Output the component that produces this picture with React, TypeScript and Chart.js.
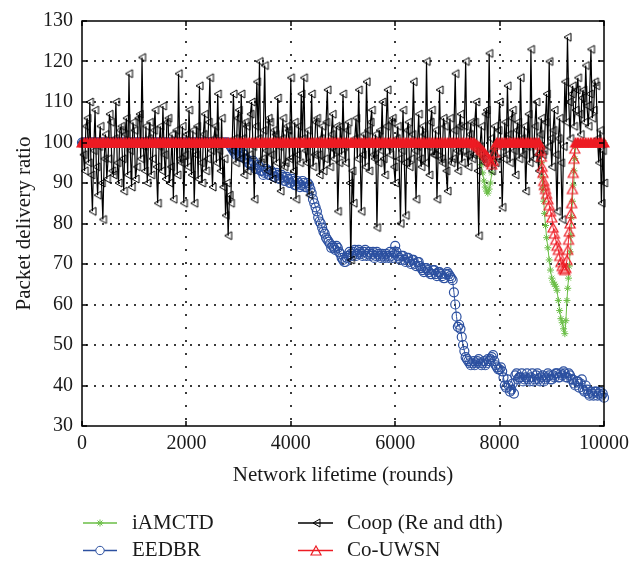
import React, { useEffect, useRef } from 'react';
import { Chart, registerables } from 'chart.js';

Chart.register(...registerables);

// ---------- data ----------
const seriesNames = ['iAMCTD', 'EEDBR', 'Coop (Re and dth)', 'Co-UWSN'];
const xTicks = [0, 2000, 4000, 6000, 8000, 10000];
const yTicks = [30, 40, 50, 60, 70, 80, 90, 100, 110, 120, 130];
const xTitle = 'Network lifetime (rounds)';
const yTitle = 'Packet delivery ratio';

// sampling rounds for EEDBR and Coop (every 25 rounds)
const rounds = [
  0, 25, 50, 75, 100, 125, 150, 175, 200, 225,
  250, 275, 300, 325, 350, 375, 400, 425, 450, 475,
  500, 525, 550, 575, 600, 625, 650, 675, 700, 725,
  750, 775, 800, 825, 850, 875, 900, 925, 950, 975,
  1000, 1025, 1050, 1075, 1100, 1125, 1150, 1175, 1200, 1225,
  1250, 1275, 1300, 1325, 1350, 1375, 1400, 1425, 1450, 1475,
  1500, 1525, 1550, 1575, 1600, 1625, 1650, 1675, 1700, 1725,
  1750, 1775, 1800, 1825, 1850, 1875, 1900, 1925, 1950, 1975,
  2000, 2025, 2050, 2075, 2100, 2125, 2150, 2175, 2200, 2225,
  2250, 2275, 2300, 2325, 2350, 2375, 2400, 2425, 2450, 2475,
  2500, 2525, 2550, 2575, 2600, 2625, 2650, 2675, 2700, 2725,
  2750, 2775, 2800, 2825, 2850, 2875, 2900, 2925, 2950, 2975,
  3000, 3025, 3050, 3075, 3100, 3125, 3150, 3175, 3200, 3225,
  3250, 3275, 3300, 3325, 3350, 3375, 3400, 3425, 3450, 3475,
  3500, 3525, 3550, 3575, 3600, 3625, 3650, 3675, 3700, 3725,
  3750, 3775, 3800, 3825, 3850, 3875, 3900, 3925, 3950, 3975,
  4000, 4025, 4050, 4075, 4100, 4125, 4150, 4175, 4200, 4225,
  4250, 4275, 4300, 4325, 4350, 4375, 4400, 4425, 4450, 4475,
  4500, 4525, 4550, 4575, 4600, 4625, 4650, 4675, 4700, 4725,
  4750, 4775, 4800, 4825, 4850, 4875, 4900, 4925, 4950, 4975,
  5000, 5025, 5050, 5075, 5100, 5125, 5150, 5175, 5200, 5225,
  5250, 5275, 5300, 5325, 5350, 5375, 5400, 5425, 5450, 5475,
  5500, 5525, 5550, 5575, 5600, 5625, 5650, 5675, 5700, 5725,
  5750, 5775, 5800, 5825, 5850, 5875, 5900, 5925, 5950, 5975,
  6000, 6025, 6050, 6075, 6100, 6125, 6150, 6175, 6200, 6225,
  6250, 6275, 6300, 6325, 6350, 6375, 6400, 6425, 6450, 6475,
  6500, 6525, 6550, 6575, 6600, 6625, 6650, 6675, 6700, 6725,
  6750, 6775, 6800, 6825, 6850, 6875, 6900, 6925, 6950, 6975,
  7000, 7025, 7050, 7075, 7100, 7125, 7150, 7175, 7200, 7225,
  7250, 7275, 7300, 7325, 7350, 7375, 7400, 7425, 7450, 7475,
  7500, 7525, 7550, 7575, 7600, 7625, 7650, 7675, 7700, 7725,
  7750, 7775, 7800, 7825, 7850, 7875, 7900, 7925, 7950, 7975,
  8000, 8025, 8050, 8075, 8100, 8125, 8150, 8175, 8200, 8225,
  8250, 8275, 8300, 8325, 8350, 8375, 8400, 8425, 8450, 8475,
  8500, 8525, 8550, 8575, 8600, 8625, 8650, 8675, 8700, 8725,
  8750, 8775, 8800, 8825, 8850, 8875, 8900, 8925, 8950, 8975,
  9000, 9025, 9050, 9075, 9100, 9125, 9150, 9175, 9200, 9225,
  9250, 9275, 9300, 9325, 9350, 9375, 9400, 9425, 9450, 9475,
  9500, 9525, 9550, 9575, 9600, 9625, 9650, 9675, 9700, 9725,
  9750, 9775, 9800, 9825, 9850, 9875, 9900, 9925, 9950, 9975,
  10000,
];

const coopValues = [
  100, 97, 93, 104, 106, 95, 110, 92, 83, 98,
  108, 94, 87, 99, 104, 90, 81, 96, 102, 91,
  96, 107, 105, 93, 92, 101, 110, 95, 90, 103,
  104, 96, 88, 102, 106, 92, 117, 98, 89, 105,
  103, 91, 94, 106, 107, 96, 121, 99, 93, 104,
  90, 101, 105, 92, 96, 103, 108, 94, 85, 99,
  104, 93, 109, 97, 91, 105, 106, 90, 94, 102,
  86, 100, 103, 92, 117, 96, 95, 104, 85, 97,
  102, 94, 108, 99, 92, 103, 85, 97, 104, 91,
  114, 95, 90, 102, 107, 93, 96, 105, 116, 98,
  89, 101, 104, 95, 112, 98, 93, 106, 89, 96,
  82, 90, 77, 87, 85, 98, 112, 101, 95, 106,
  108, 96, 112, 101, 92, 105, 104, 93, 97, 107,
  110, 99, 86, 104, 115, 101, 120, 95, 96, 103,
  119, 98, 93, 106, 105, 97, 91, 103, 102, 95,
  111, 99, 88, 101, 106, 94, 95, 104, 103, 96,
  116, 100, 93, 105, 86, 97, 104, 95, 112, 101,
  116, 98, 95, 103, 87, 100, 112, 94, 97, 105,
  106, 97, 92, 101, 104, 93, 96, 105, 113, 99,
  94, 102, 107, 96, 98, 104, 83, 95, 104, 97,
  112, 99, 95, 103, 105, 90, 71, 93, 85, 101,
  106, 96, 113, 100, 83, 97, 102, 94, 115, 103,
  93, 105, 108, 97, 96, 102, 79, 95, 103, 98,
  110, 96, 92, 104, 113, 99, 97, 105, 106, 94,
  90, 101, 104, 96, 80, 98, 108, 95, 82, 103,
  105, 94, 96, 102, 115, 98, 86, 99, 107, 96,
  94, 104, 102, 95, 120, 99, 92, 105, 108, 97,
  97, 103, 86, 98, 113, 96, 95, 106, 104, 93,
  88, 100, 106, 95, 96, 103, 117, 98, 93, 104,
  107, 95, 98, 104, 120, 97, 94, 102, 105, 96,
  97, 105, 110, 93, 77, 99, 104, 96, 95, 107,
  108, 97, 122, 101, 93, 98, 104, 95, 96, 103,
  110, 99, 84, 96, 105, 97, 114, 102, 95, 106,
  108, 98, 92, 103, 105, 96, 116, 101, 97, 104,
  88, 99, 107, 95, 123, 100, 96, 104, 110, 97,
  93, 102, 106, 97, 98, 105, 112, 99, 120, 101,
  94, 103, 108, 97, 83, 101, 106, 95, 81, 99,
  115, 105, 126, 110, 101, 112, 114, 104, 108, 113,
  116, 107, 102, 111, 113, 105, 119, 109, 104, 112,
  123, 106, 108, 115, 114, 101, 95, 103, 85, 98,
  90,
];

const eedbrValues = [
  100, 100, 100, 100, 100, 100, 100, 100, 100, 100,
  100, 100, 100, 100, 100, 100, 100, 100, 100, 100,
  100, 100, 100, 100, 100, 100, 100, 100, 100, 100,
  100, 100, 100, 100, 100, 100, 100, 100, 100, 100,
  100, 100, 100, 100, 100, 100, 100, 100, 100, 100,
  100, 100, 100, 100, 100, 100, 100, 100, 100, 100,
  100, 100, 100, 100, 100, 100, 100, 100, 100, 100,
  100, 100, 100, 100, 100, 100, 100, 100, 100, 100,
  100, 100, 100, 100, 100, 100, 100, 100, 100, 100,
  100, 100, 100, 100, 100, 100, 100, 100, 100, 100,
  100, 100, 100, 100, 100, 100, 100, 100, 100, 100,
  100, 100, 100, 99.5, 99, 98.5, 98, 97.5, 97, 98,
  97.5, 96.5, 96.5, 97.5, 97, 96, 96, 95, 95, 94.5,
  94.5, 95.5, 95, 93.5, 93.5, 94.5, 94, 93, 93, 92,
  92.5, 93.5, 93, 92, 92, 93, 92.5, 91.5, 91.5, 92.5,
  92, 91, 91, 92, 91.5, 90.5, 90.5, 91.5, 91, 90,
  90, 91, 90.5, 89.5, 89.5, 90.5, 90, 89, 89.5, 90.5,
  90, 89, 89, 90, 89.5, 88.5, 87.5, 86, 85, 84,
  83, 81.5, 80.5, 80, 79, 78, 77.5, 76.5, 76, 75.5,
  75, 74, 74.5, 74, 73.5, 74.5, 74, 73, 72.5, 71.5,
  71, 70.5, 70.5, 71.5, 72, 73, 72.5, 72, 73, 73.5,
  72, 72.5, 73.5, 73, 72.5, 72, 73, 73.5, 72, 72.5,
  73, 72, 72.5, 73, 71.5, 72, 73, 72.5, 72, 71.5,
  72.5, 72, 71.5, 72.5, 72, 71.5, 73, 72, 71.5, 73,
  74.5, 73, 72, 71.5, 71, 72, 72, 71, 70.5, 71.5,
  71.5, 70.5, 70, 71, 71, 70, 69.5, 70.5, 70.5, 69.5,
  69, 68.5, 68, 69, 69, 68.5, 68, 67.5, 67.5, 68.5,
  68.5, 67.5, 67, 68, 68, 67.5, 67, 66.5, 66.5, 67.5,
  68, 67.5, 67, 66.5, 66, 63, 60, 57, 54.5, 55,
  54, 52, 50, 48.5, 47, 46.5, 46, 45.5, 45, 45.5,
  46, 45, 45.5, 46, 46.5, 45.5, 45, 45.5, 46, 45,
  45.5, 46.5, 46, 46.5, 47, 47.5, 46, 45, 44.5, 44,
  44, 44.5, 43.5, 42, 40, 39.5, 41.5, 40, 38.5, 39,
  40.5, 38, 42.5, 43, 41.5, 42, 42, 43, 41, 41.5,
  42, 43, 41.5, 41, 42, 43, 41, 41.5, 42.5, 43,
  41.5, 41, 42, 42.5, 41, 41.5, 42, 43, 42.5, 41.5,
  41.5, 42.5, 42, 43, 43, 42, 42, 43, 42.5, 43.5,
  43, 42, 42, 43, 42.5, 41.5, 41.5, 40.5, 40, 41,
  41, 39.5, 40.5, 41.5, 39, 38.5, 40, 39, 38, 37.5,
  38.5, 38, 37.5, 38.5, 38.5, 37.5, 38, 38.5, 37.5, 38,
  37,
];

// sampling rounds for iAMCTD and Co-UWSN (denser around the dips)
const fineRounds = [
  0, 50, 100, 150, 200, 250, 300, 350, 400, 450,
  500, 550, 600, 650, 700, 750, 800, 850, 900, 950,
  1000, 1050, 1100, 1150, 1200, 1250, 1300, 1350, 1400, 1450,
  1500, 1550, 1600, 1650, 1700, 1750, 1800, 1850, 1900, 1950,
  2000, 2050, 2100, 2150, 2200, 2250, 2300, 2350, 2400, 2450,
  2500, 2550, 2600, 2650, 2700, 2750, 2800, 2850, 2900, 2950,
  3000, 3050, 3100, 3150, 3200, 3250, 3300, 3350, 3400, 3450,
  3500, 3550, 3600, 3650, 3700, 3750, 3800, 3850, 3900, 3950,
  4000, 4050, 4100, 4150, 4200, 4250, 4300, 4350, 4400, 4450,
  4500, 4550, 4600, 4650, 4700, 4750, 4800, 4850, 4900, 4950,
  5000, 5050, 5100, 5150, 5200, 5250, 5300, 5350, 5400, 5450,
  5500, 5550, 5600, 5650, 5700, 5750, 5800, 5850, 5900, 5950,
  6000, 6050, 6100, 6150, 6200, 6250, 6300, 6350, 6400, 6450,
  6500, 6550, 6600, 6650, 6700, 6750, 6800, 6850, 6900, 6950,
  7000, 7050, 7100, 7150, 7200, 7250, 7300, 7350, 7400, 7450,
  7500,
  7525, 7550, 7575, 7600, 7625, 7650, 7675, 7700, 7725, 7750,
  7775, 7800, 7825, 7850, 7875, 7900, 7925,
  7950, 8000, 8050, 8100, 8150, 8200, 8250, 8300, 8350, 8400,
  8450, 8500, 8550, 8600, 8650, 8700, 8750,
  8770, 8785, 8800, 8815, 8830, 8845, 8860, 8880, 8900, 8925,
  8950, 8975, 9000, 9025, 9050, 9075, 9100, 9125, 9150, 9175,
  9200, 9225, 9250, 9270, 9290, 9305, 9320, 9335, 9350, 9365,
  9380, 9395, 9410, 9425, 9440, 9455,
  9500, 9550, 9600, 9650, 9700, 9750, 9800, 9850, 9900, 9950,
  10000,
];

const coUwsnValues = [
  100, 100, 100, 100, 100, 100, 100, 100, 100, 100,
  100, 100, 100, 100, 100, 100, 100, 100, 100, 100,
  100, 100, 100, 100, 100, 100, 100, 100, 100, 100,
  100, 100, 100, 100, 100, 100, 100, 100, 100, 100,
  100, 100, 100, 100, 100, 100, 100, 100, 100, 100,
  100, 100, 100, 100, 100, 100, 100, 100, 100, 100,
  100, 100, 100, 100, 100, 100, 100, 100, 100, 100,
  100, 100, 100, 100, 100, 100, 100, 100, 100, 100,
  100, 100, 100, 100, 100, 100, 100, 100, 100, 100,
  100, 100, 100, 100, 100, 100, 100, 100, 100, 100,
  100, 100, 100, 100, 100, 100, 100, 100, 100, 100,
  100, 100, 100, 100, 100, 100, 100, 100, 100, 100,
  100, 100, 100, 100, 100, 100, 100, 100, 100, 100,
  100, 100, 100, 100, 100, 100, 100, 100, 100, 100,
  100, 100, 100, 100, 100, 100, 100, 100, 100, 100,
  100,
  99.8, 99.5, 99.3, 99, 98.7, 98.3, 98, 97.6, 97.2, 96.8,
  96.3, 95.8, 95.2, 94.6, 95.5, 97.5, 99.5,
  100, 100, 100, 100, 100, 100, 100, 100, 100, 100,
  100, 100, 100, 100, 100, 100, 100,
  99.5, 98, 96.5, 94, 92.5, 90.5, 89.5, 88.5, 87.3, 86,
  84.5, 83, 81.5, 79, 77.5, 76, 74.5, 73.5, 72, 70.5,
  69.5, 68.8, 68.5, 69, 71, 73.5, 76, 78, 80, 82.5,
  85, 88.5, 92.5, 96, 98.5, 100,
  100, 100, 100, 100, 100, 100, 100, 100, 100, 100,
  100,
];

const iamctdValues = [
  100, 100, 100, 100, 100, 100, 100, 100, 100, 100,
  100, 100, 100, 100, 100, 100, 100, 100, 100, 100,
  100, 100, 100, 100, 100, 100, 100, 100, 100, 100,
  100, 100, 100, 100, 100, 100, 100, 100, 100, 100,
  100, 100, 100, 100, 100, 100, 100, 100, 100, 100,
  100, 100, 100, 100, 100, 100, 100, 100, 100, 100,
  100, 100, 100, 100, 100, 100, 100, 100, 100, 100,
  100, 100, 100, 100, 100, 100, 100, 100, 100, 100,
  100, 100, 100, 100, 100, 100, 100, 100, 100, 100,
  100, 100, 100, 100, 100, 100, 100, 100, 100, 100,
  100, 100, 100, 100, 100, 100, 100, 100, 100, 100,
  100, 100, 100, 100, 100, 100, 100, 100, 100, 100,
  100, 100, 100, 100, 100, 100, 100, 100, 100, 100,
  100, 100, 100, 100, 100, 100, 100, 100, 100, 100,
  100, 100, 100, 100, 100, 100, 100, 100, 100, 100,
  100,
  100, 99.5, 99, 98, 96.5, 94.5, 92.5, 90.5, 89, 88,
  87.5, 88.5, 90, 92.5, 95.5, 98.5, 100,
  100, 100, 100, 100, 100, 100, 100, 100, 100, 100,
  100, 100, 100, 100, 100, 100, 100,
  99.5, 97.5, 95, 91.5, 88.5, 85.5, 82.5, 79.5, 76.5, 74,
  71, 68.5, 66.5, 65.5, 65, 64.5, 63.5, 61, 58.5, 56.5,
  55.5, 54, 52.8, 56, 61, 64, 66.5, 69.5, 73, 77,
  81.5, 85.5, 89.5, 93, 96, 99,
  100, 100, 100, 100, 100, 100, 100, 100, 100, 100,
  100,
];

// ---------- styles ----------
const FONT = '"Liberation Serif", "DejaVu Serif", serif';
const GREEN = 'rgb(106,190,70)';
const BLUE = 'rgb(44,80,160)';
const RED = 'rgb(237,28,36)';
const BLACK = '#000';
const TEXT = '#1a1a1a';

function makeTriangle(color: string, w: number, h: number, dir: 'up' | 'left', lw: number, filled: boolean) {
  const pad = 2;
  const c = document.createElement('canvas');
  c.width = w + pad * 2;
  c.height = h + pad * 2;
  const ctx = c.getContext('2d')!;
  ctx.strokeStyle = color;
  ctx.fillStyle = color;
  ctx.lineWidth = lw;
  ctx.lineJoin = 'miter';
  ctx.beginPath();
  if (dir === 'up') {
    ctx.moveTo(pad + w / 2, pad);
    ctx.lineTo(pad + w, pad + h);
    ctx.lineTo(pad, pad + h);
  } else {
    ctx.moveTo(pad, pad + h / 2);
    ctx.lineTo(pad + w, pad);
    ctx.lineTo(pad + w, pad + h);
  }
  ctx.closePath();
  if (filled) ctx.fill();
  ctx.stroke();
  return c;
}

function toPoints(xs: number[], ys: number[]) {
  return xs.map((x, i) => ({ x, y: ys[i] }));
}

export default function App() {
  const ref = useRef<HTMLCanvasElement>(null);

  useEffect(() => {
    const canvas = ref.current!;
    const redTri = makeTriangle(RED, 10, 9, 'up', 1.2, false);
    const redTriSolid = makeTriangle(RED, 10, 9, 'up', 1.2, true);
    const blackTri = makeTriangle(BLACK, 7, 8, 'left', 1, false);

    const framePlugin = {
      id: 'frame',
      beforeDatasetsDraw(chart: any) {
        const { ctx, chartArea: a, scales } = chart;
        const x = scales.x;
        const y = scales.y;
        ctx.save();
        ctx.fillStyle = '#3a3a3a';
        // dotted horizontal grid
        for (const v of yTicks) {
          if (v === yTicks[0] || v === yTicks[yTicks.length - 1]) continue;
          const py = Math.round(y.getPixelForValue(v)) - 1;
          for (let px = Math.round(a.left) + 4; px < a.right - 2; px += 8) {
            ctx.fillRect(px, py, 2, 2);
          }
        }
        // dotted vertical grid
        for (const v of xTicks) {
          if (v === xTicks[0] || v === xTicks[xTicks.length - 1]) continue;
          const px = Math.round(x.getPixelForValue(v)) - 1;
          for (let py = Math.round(a.bottom) - 8; py > a.top + 2; py -= 13) {
            ctx.fillRect(px, py, 2, 2);
          }
        }
        ctx.restore();
      },
      afterDatasetsDraw(chart: any) {
        const { ctx, chartArea: a, scales } = chart;
        const x = scales.x;
        const y = scales.y;
        ctx.save();
        ctx.setLineDash([]);
        ctx.strokeStyle = BLACK;
        ctx.lineWidth = 1.5;
        ctx.strokeRect(a.left, a.top, a.right - a.left, a.bottom - a.top);
        ctx.lineWidth = 1.5;
        const tl = 5;
        for (const v of xTicks) {
          const px = Math.round(x.getPixelForValue(v));
          ctx.beginPath();
          ctx.moveTo(px, a.bottom);
          ctx.lineTo(px, a.bottom - tl);
          ctx.moveTo(px, a.top);
          ctx.lineTo(px, a.top + tl);
          ctx.stroke();
        }
        for (const v of yTicks) {
          const py = Math.round(y.getPixelForValue(v));
          ctx.beginPath();
          ctx.moveTo(a.left, py);
          ctx.lineTo(a.left + tl, py);
          ctx.moveTo(a.right, py);
          ctx.lineTo(a.right - tl, py);
          ctx.stroke();
        }
        ctx.restore();
      },
      afterDraw(chart: any) {
        const { ctx } = chart;
        const items = [
          { x0: 83, x1: 117, mx: 100, y: 523, tx: 132, color: GREEN, marker: 'star', label: seriesNames[0] },
          { x0: 83, x1: 117, mx: 100, y: 550.5, tx: 132, color: BLUE, marker: 'circle', label: seriesNames[1] },
          { x0: 298, x1: 333, mx: 316, y: 523, tx: 347, color: BLACK, marker: 'left', label: seriesNames[2] },
          { x0: 298, x1: 333, mx: 316, y: 550.5, tx: 347, color: RED, marker: 'up', label: seriesNames[3] },
        ];
        ctx.save();
        for (const it of items) {
          ctx.strokeStyle = it.color;
          ctx.lineWidth = 1.3;
          ctx.beginPath();
          ctx.moveTo(it.x0, it.y);
          ctx.lineTo(it.x1, it.y);
          ctx.stroke();
          ctx.lineWidth = 1;
          if (it.marker === 'star') {
            const r = 3.5;
            ctx.beginPath();
            ctx.moveTo(it.mx - r, it.y);
            ctx.lineTo(it.mx + r, it.y);
            ctx.moveTo(it.mx, it.y - r);
            ctx.lineTo(it.mx, it.y + r);
            const d = r * 0.707;
            ctx.moveTo(it.mx - d, it.y - d);
            ctx.lineTo(it.mx + d, it.y + d);
            ctx.moveTo(it.mx - d, it.y + d);
            ctx.lineTo(it.mx + d, it.y - d);
            ctx.stroke();
          } else if (it.marker === 'circle') {
            ctx.fillStyle = '#fff';
            ctx.beginPath();
            ctx.arc(it.mx, it.y, 4.2, 0, Math.PI * 2);
            ctx.fill();
            ctx.stroke();
          } else {
            const img = it.marker === 'up' ? redTri : blackTri;
            ctx.drawImage(img, Math.round(it.mx - img.width / 2), Math.round(it.y - img.height / 2));
          }
          ctx.fillStyle = TEXT;
          ctx.font = `21px ${FONT}`;
          ctx.textBaseline = 'middle';
          ctx.textAlign = 'left';
          ctx.fillText(it.label, it.tx, it.y);
        }
        ctx.restore();
      },
    };

    const tickFont = { family: FONT, size: 20 };
    const titleFont = { family: FONT, size: 21 };

    const chart = new Chart(canvas, {
      type: 'line',
      data: {
        datasets: [
          {
            label: seriesNames[0],
            data: toPoints(fineRounds, iamctdValues),
            borderColor: GREEN,
            borderWidth: 1,
            pointStyle: 'star',
            pointRadius: 3.5,
            pointBorderColor: GREEN,
            pointBackgroundColor: 'rgba(0,0,0,0)',
            pointBorderWidth: 1,
            tension: 0,
            clip: false,
            order: 3,
          },
          {
            label: seriesNames[1],
            data: toPoints(rounds, eedbrValues),
            borderColor: BLUE,
            borderWidth: 1,
            pointStyle: 'circle',
            pointRadius: 4.5,
            pointBorderColor: BLUE,
            pointBackgroundColor: 'rgba(0,0,0,0)',
            pointBorderWidth: 1.2,
            tension: 0,
            clip: false,
            order: 2,
          },
          {
            label: seriesNames[2],
            data: toPoints(rounds, coopValues),
            borderColor: BLACK,
            borderWidth: 1.2,
            pointStyle: blackTri as any,
            pointRadius: 4.5,
            tension: 0,
            clip: false,
            order: 1,
          },
          {
            label: seriesNames[3],
            data: toPoints(fineRounds, coUwsnValues),
            borderColor: RED,
            borderWidth: 1,
            pointStyle: (c: any) => (c.raw && c.raw.y >= 99.9 ? redTriSolid : redTri),
            pointRadius: 5,
            tension: 0,
            clip: false,
            order: 0,
          },
        ],
      },
      options: {
        animation: false,
        responsive: false,
        maintainAspectRatio: false,
        devicePixelRatio: 1,
        events: [],
        layout: { padding: { top: 15, right: 36, bottom: 75, left: 0 } },
        plugins: {
          legend: { display: false },
          tooltip: { enabled: false },
        },
        scales: {
          x: {
            type: 'linear',
            min: 0,
            max: 10000,
            grid: { display: false, drawTicks: false },
            border: { display: false },
            ticks: {
              stepSize: 2000,
              font: tickFont,
              color: TEXT,
              padding: 6,
              maxRotation: 0,
              autoSkip: false,
              callback: (v: any) => String(v),
            },
            title: {
              display: true,
              text: xTitle,
              font: titleFont,
              color: TEXT,
              padding: { top: 0, bottom: 2 },
            },
            afterFit: (s: any) => {
              s.height = 64;
            },
          },
          y: {
            type: 'linear',
            min: 30,
            max: 130,
            grid: { display: false, drawTicks: false },
            border: { display: false },
            ticks: {
              stepSize: 10,
              font: tickFont,
              color: TEXT,
              padding: 9,
              callback: (v: any) => String(v),
            },
            title: {
              display: true,
              text: yTitle,
              font: titleFont,
              color: TEXT,
              padding: { top: 12, bottom: 0 },
            },
            afterFit: (s: any) => {
              s.width = 82;
            },
          },
        },
      },
      plugins: [framePlugin],
    } as any);

    return () => chart.destroy();
  }, []);

  return (
    <div style={{ position: 'absolute', left: 0, top: 0, width: 640, height: 565, background: '#fff' }}>
      <canvas ref={ref} width={640} height={565} style={{ display: 'block', width: 640, height: 565 }} />
    </div>
  );
}
